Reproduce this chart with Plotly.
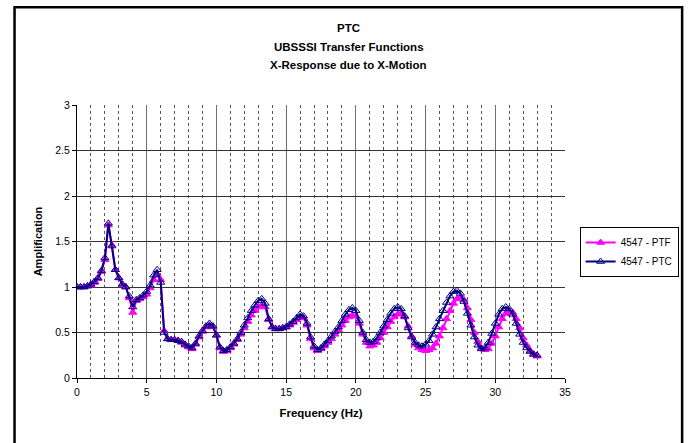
import plotly.graph_objects as go

# Frequency points (Hz)
freq = [
    0.0, 0.25, 0.5, 0.75, 1.0, 1.25, 1.5, 1.75, 2.0, 2.25, 2.5, 2.75,
    3.0, 3.25, 3.5, 3.75, 4.0, 4.25, 4.5, 4.75, 5.0, 5.25, 5.5, 5.75,
    6.0, 6.25, 6.5, 6.75, 7.0, 7.25, 7.5, 7.75, 8.0, 8.25, 8.5, 8.75,
    9.0, 9.25, 9.5, 9.75, 10.0, 10.25, 10.5, 10.75, 11.0, 11.25, 11.5, 11.75,
    12.0, 12.25, 12.5, 12.75, 13.0, 13.25, 13.5, 13.75, 14.0, 14.25, 14.5, 14.75,
    15.0, 15.25, 15.5, 15.75, 16.0, 16.25, 16.5, 16.75, 17.0, 17.25, 17.5, 17.75,
    18.0, 18.25, 18.5, 18.75, 19.0, 19.25, 19.5, 19.75, 20.0, 20.25, 20.5, 20.75,
    21.0, 21.25, 21.5, 21.75, 22.0, 22.25, 22.5, 22.75, 23.0, 23.25, 23.5, 23.75,
    24.0, 24.25, 24.5, 24.75, 25.0, 25.25, 25.5, 25.75, 26.0, 26.25, 26.5, 26.75,
    27.0, 27.25, 27.5, 27.75, 28.0, 28.25, 28.5, 28.75, 29.0, 29.25, 29.5, 29.75,
    30.0, 30.25, 30.5, 30.75, 31.0, 31.25, 31.5, 31.75, 32.0, 32.25, 32.5, 32.75,
    33.0,
]

# 4547 - PTF amplification
ptf = [
    1.00, 1.00, 1.00, 1.01, 1.02, 1.05, 1.09, 1.17, 1.30, 1.68, 1.46, 1.19,
    1.10, 1.03, 1.00, 0.88, 0.72, 0.85, 0.87, 0.89, 0.92, 0.99, 1.08, 1.14,
    1.08, 0.52, 0.43, 0.42, 0.42, 0.41, 0.39, 0.36, 0.34, 0.32, 0.37, 0.45,
    0.51, 0.56, 0.58, 0.56, 0.47, 0.33, 0.29, 0.30, 0.33, 0.37, 0.42, 0.48,
    0.55, 0.62, 0.69, 0.74, 0.78, 0.80, 0.78, 0.64, 0.56, 0.54, 0.54, 0.55,
    0.56, 0.58, 0.61, 0.64, 0.67, 0.66, 0.58, 0.43, 0.33, 0.30, 0.32, 0.35,
    0.39, 0.43, 0.48, 0.53, 0.58, 0.63, 0.67, 0.69, 0.68, 0.60, 0.48, 0.39,
    0.35, 0.36, 0.39, 0.44, 0.50, 0.56, 0.62, 0.67, 0.70, 0.71, 0.67, 0.57,
    0.46, 0.37, 0.33, 0.31, 0.30, 0.31, 0.33, 0.38, 0.46, 0.55, 0.65, 0.74,
    0.82, 0.87, 0.89, 0.86, 0.77, 0.64, 0.50, 0.40, 0.33, 0.31, 0.32, 0.38,
    0.46, 0.56, 0.65, 0.71, 0.74, 0.72, 0.65, 0.55, 0.44, 0.36, 0.30, 0.26,
    0.24,
]

# 4547 - PTC amplification
ptc = [
    1.00, 1.00, 1.00, 1.01, 1.03, 1.06, 1.10, 1.18, 1.32, 1.70, 1.45, 1.19,
    1.10, 1.03, 1.00, 0.90, 0.78, 0.86, 0.88, 0.91, 0.95, 1.02, 1.13, 1.19,
    1.05, 0.50, 0.43, 0.42, 0.42, 0.41, 0.40, 0.37, 0.35, 0.33, 0.38, 0.46,
    0.52, 0.57, 0.60, 0.57, 0.47, 0.34, 0.30, 0.31, 0.34, 0.38, 0.43, 0.50,
    0.58, 0.66, 0.74, 0.80, 0.85, 0.87, 0.82, 0.65, 0.56, 0.54, 0.54, 0.55,
    0.56, 0.59, 0.62, 0.66, 0.70, 0.68, 0.60, 0.45, 0.35, 0.31, 0.33, 0.37,
    0.41, 0.46, 0.51, 0.56, 0.63, 0.70, 0.75, 0.77, 0.74, 0.63, 0.50, 0.42,
    0.39, 0.40, 0.44, 0.50, 0.57, 0.64, 0.71, 0.76, 0.78, 0.76, 0.68, 0.55,
    0.45, 0.39, 0.36, 0.35, 0.37, 0.41, 0.48, 0.56, 0.65, 0.74, 0.83, 0.90,
    0.95, 0.96, 0.93, 0.84, 0.71, 0.58, 0.45, 0.36, 0.32, 0.33, 0.39, 0.49,
    0.60, 0.70, 0.76, 0.78, 0.76, 0.70, 0.60, 0.48, 0.39, 0.33, 0.29, 0.26,
    0.25,
]

series_names = ["4547 - PTF", "4547 - PTC"]
title_lines = ["PTC", "UBSSSI Transfer Functions", "X-Response due to X-Motion"]

FONT = "Liberation Sans, Arial, sans-serif"

fig = go.Figure()
fig.add_trace(go.Scatter(
    x=freq, y=ptf, name=series_names[0], mode="lines+markers",
    line=dict(color="#FF00FF", width=2),
    marker=dict(symbol="triangle-up", size=7, color="#FF00FF",
                line=dict(color="#FF00FF", width=1)),
))
fig.add_trace(go.Scatter(
    x=freq, y=ptc, name=series_names[1], mode="lines+markers",
    line=dict(color="#000080", width=2),
    marker=dict(symbol="triangle-up-open", size=7, color="#000080",
                line=dict(color="#000080", width=1)),
))

# three centred title lines, one annotation each
title_y = [1.282, 1.214, 1.148]
annotations = [
    dict(text="<b>" + line + "</b>", xref="paper", yref="paper",
         x=0.557, y=yy, xanchor="center", yanchor="middle",
         showarrow=False, font=dict(family=FONT, size=11.5, color="black"))
    for line, yy in zip(title_lines, title_y)
]

fig.update_layout(
    width=691, height=443,
    margin=dict(l=77, r=124, t=105, b=65),
    paper_bgcolor="white", plot_bgcolor="white",
    font=dict(family=FONT, size=10, color="black"),
    showlegend=True,
    legend=dict(
        x=1.03, y=0.553, xanchor="left", yanchor="top",
        bordercolor="black", borderwidth=1, bgcolor="white",
        font=dict(family=FONT, size=10, color="black"),
        tracegroupgap=0, itemwidth=30,
    ),
    annotations=annotations,
    shapes=[
        dict(type="rect", xref="paper", yref="paper",
             x0=-0.128, x1=1.24, y0=-0.3, y1=1.358,
             line=dict(color="black", width=2.5), layer="below"),
    ],
)

fig.update_xaxes(
    range=[0, 35], dtick=5, tick0=0,
    showgrid=True, gridcolor="#6e6e6e", gridwidth=1,
    minor=dict(dtick=1, showgrid=True, gridcolor="#555555",
               griddash="dot", gridwidth=1),
    showline=True, linecolor="black", linewidth=1,
    ticks="outside", ticklen=4, tickcolor="black",
    zeroline=False,
    title=dict(text="<b>Frequency (Hz)</b>", standoff=12,
               font=dict(family=FONT, size=11.5)),
    tickfont=dict(family=FONT, size=10.5),
)
fig.update_yaxes(
    range=[0, 3], dtick=0.5, tick0=0,
    showgrid=True, gridcolor="#333333", gridwidth=1,
    showline=True, linecolor="black", linewidth=1,
    ticks="outside", ticklen=4, tickcolor="black",
    zeroline=False,
    title=dict(text="<b>Amplification</b>", standoff=10,
               font=dict(family=FONT, size=11)),
    tickfont=dict(family=FONT, size=10.5),
)

fig.write_html("out.html")
